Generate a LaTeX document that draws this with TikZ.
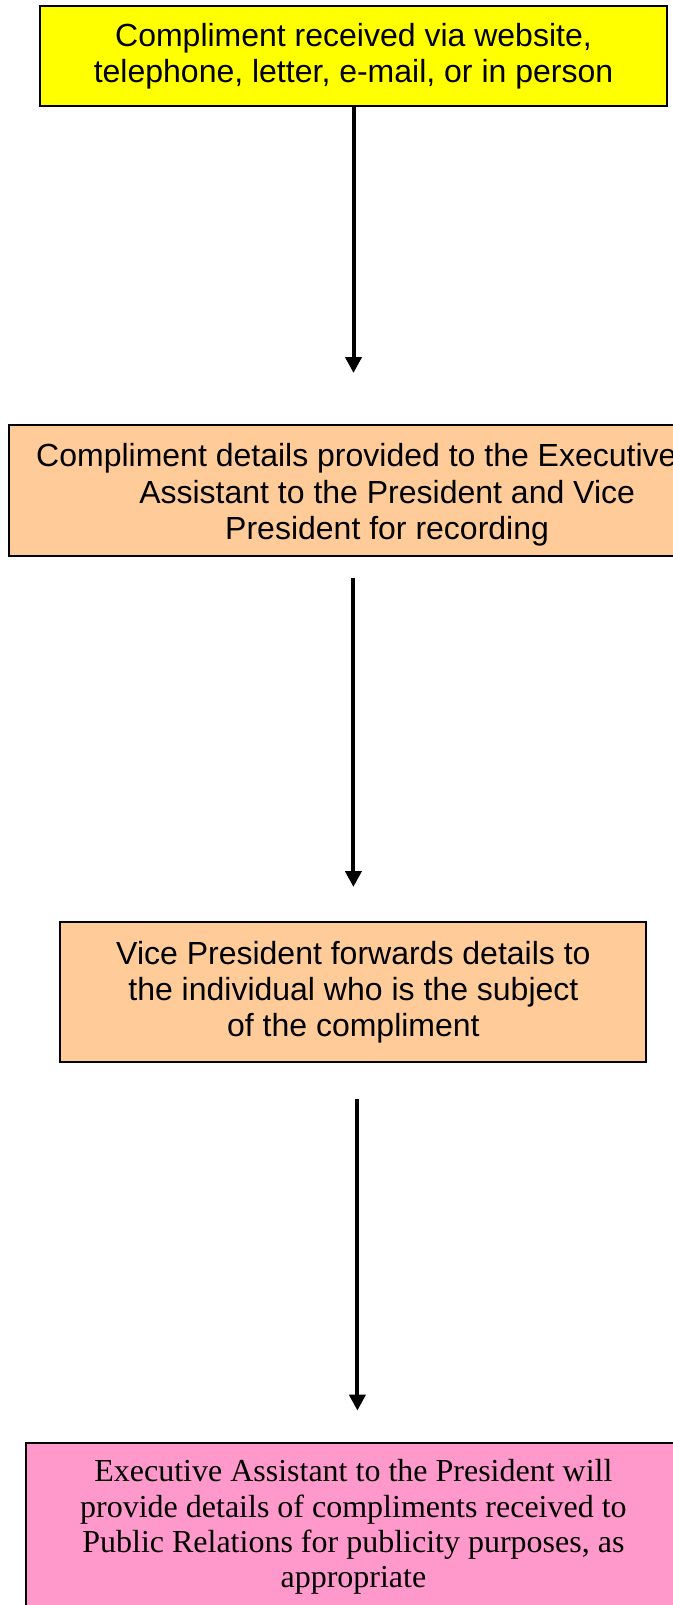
\documentclass[tikz,border=0pt]{standalone}
\usepackage{fontspec}
\setmainfont{Liberation Serif}
\setsansfont{Liberation Sans}
\usetikzlibrary{arrows.meta,calc}
\definecolor{boxyellow}{HTML}{FFFF00}
\definecolor{boxorange}{HTML}{FFCC99}
\definecolor{boxpink}{HTML}{FF99CC}
\begin{document}
\begin{tikzpicture}[x=0.5pt,y=-0.5pt,
  box/.style={draw=black,line width=1pt,align=center,inner sep=0pt,
    font=\sffamily\fontsize{16pt}{18pt}\selectfont},
  serifbox/.style={box,font=\rmfamily\fontsize{16pt}{17.6pt}\selectfont},
  arr/.style={line width=2pt,-{Triangle[width=8pt,length=8pt]}}]
\useasboundingbox (0,0) rectangle (673,1605);
\clip (0,0) rectangle (673,1605);
\node[box,fill=boxyellow,minimum width=313.5pt,minimum height=50.25pt] (b1) at (353.5,56.25)
  {Compliment received via website,\\telephone, letter, e-mail, or in person};
\node[box,fill=boxorange,minimum width=377.9pt,minimum height=65.5pt,
  font=\sffamily\fontsize{16pt}{18.2pt}\selectfont] (b2) at (387.1,490.5)
  {\rule{0pt}{16pt}Compliment details provided to the Executive\hspace*{30.7pt}\\Assistant to the President and Vice\\President for recording};
\node[box,fill=boxorange,minimum width=293pt,minimum height=70pt] (b3) at (353.4,992)
  {Vice President forwards details to\\the individual who is the subject\\of the compliment};
\node[serifbox,fill=boxpink,minimum width=327.8pt,minimum height=84pt] (b4) at (353.4,1527)
  {Executive Assistant to the President will\\provide details of compliments received to\\Public Relations for publicity purposes, as\\appropriate};
\draw[arr,shorten >=25.5pt] (b1.south) -- (b2.north -| b1.south);
\draw[arr,shorten <=10.5pt,shorten >=17pt] (b2.south -| b3.north) -- (b3.north);
\draw[arr,shorten <=18pt,shorten >=15.7pt] ([xshift=2pt]b3.south) -- ([xshift=2pt]b4.north);
\end{tikzpicture}
\end{document}
